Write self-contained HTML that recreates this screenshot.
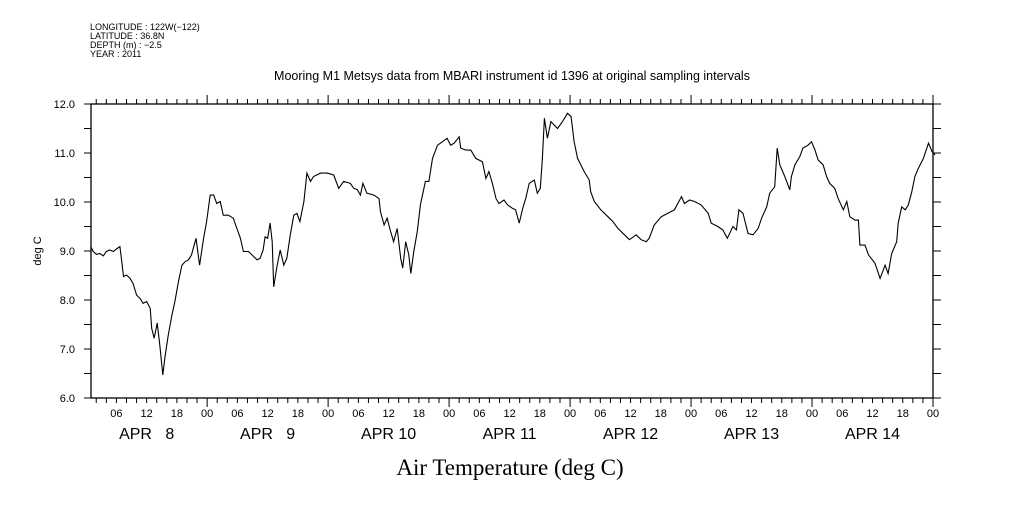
<!DOCTYPE html>
<html><head><meta charset="utf-8">
<style>
body{margin:0;background:#fff;width:1009px;height:504px;overflow:hidden}
svg text{font-family:"Liberation Sans",sans-serif;fill:#000;white-space:pre}
</style></head>
<body>
<svg id="chart" width="1009" height="504" viewBox="0 0 1009 504" xmlns="http://www.w3.org/2000/svg">
<g font-size="9">
<text x="90" y="30">LONGITUDE : 122W(−122)</text>
<text x="90" y="39">LATITUDE : 36.8N</text>
<text x="90" y="48">DEPTH (m) : −2.5</text>
<text x="90" y="57">YEAR : 2011</text>
</g>
<text x="512" y="80" text-anchor="middle" font-size="12.5">Mooring M1 Metsys data from MBARI instrument id 1396 at original sampling intervals</text>
<text x="510" y="475" text-anchor="middle" font-size="23" style="font-family:'Liberation Serif',serif">Air Temperature (deg C)</text>
<text transform="translate(41,251) rotate(-90)" text-anchor="middle" font-size="11">deg C</text>
<rect x="91" y="104" width="842" height="294" fill="none" stroke="#000" stroke-width="1.3"/>
<g id="axes"></g>
<path id="series" fill="none" stroke="#000" stroke-width="1.1"/>
</svg>
<script>
const hours=[0.9,1.4,2.1,2.7,3.4,4.0,4.7,5.4,6.0,6.7,7.0,7.4,8.0,8.7,9.3,10.0,10.7,11.3,12.0,12.7,13.0,13.5,14.1,14.6,15.2,15.6,16.3,17.0,17.6,18.3,19.0,19.6,20.3,20.9,21.8,22.5,23.3,23.9,24.6,25.3,25.9,26.6,27.2,28.2,29.2,29.9,30.6,31.2,32.2,32.9,33.9,34.5,35.1,35.5,36.0,36.5,36.9,37.2,37.9,38.5,39.2,39.8,40.5,41.2,41.8,42.4,43.2,43.8,44.5,45.1,46.5,47.8,49.1,50.1,51.1,52.4,53.1,53.8,54.4,54.9,55.7,57.1,58.1,58.4,59.1,59.7,60.4,61.0,61.7,62.4,62.8,63.4,64.0,64.4,65.0,65.7,66.3,67.3,68.0,68.7,69.7,70.7,71.6,72.3,73.0,74.0,74.3,75.3,76.3,77.3,78.6,79.3,79.9,80.6,81.3,81.9,82.9,83.6,84.6,85.2,85.9,86.6,87.2,87.9,88.9,89.5,90.1,90.5,90.9,91.5,92.2,93.5,94.5,95.5,96.2,96.8,97.5,98.8,99.8,100.1,100.8,102.1,103.5,104.5,105.5,106.8,107.8,109.1,110.1,111.1,111.7,112.7,114.1,115.4,116.7,118.1,118.7,119.7,120.7,122.0,123.4,124.0,125.3,126.3,127.2,128.3,129.0,129.5,130.3,131.3,132.3,133.3,134.0,135.0,135.6,136.6,137.1,137.6,138.6,139.6,139.9,140.6,141.6,142.2,143.2,143.9,144.6,145.2,146.2,146.9,147.5,148.5,149.2,150.2,150.9,151.5,152.5,153.2,153.5,154.5,155.2,156.5,157.5,158.5,159.1,159.8,160.8,161.1,161.8,162.5,163.1,163.8,164.4,165.1,166.1,167.1,167.8,168.4];
const temps=[9.09,8.99,8.93,8.95,8.90,8.99,9.02,8.99,9.04,9.09,8.85,8.48,8.51,8.44,8.34,8.10,8.03,7.93,7.97,7.83,7.42,7.22,7.53,7.08,6.47,6.81,7.29,7.69,7.97,8.37,8.71,8.78,8.82,8.92,9.26,8.71,9.26,9.60,10.14,10.14,9.97,10.01,9.73,9.73,9.67,9.46,9.26,8.99,8.99,8.92,8.82,8.85,9.02,9.29,9.26,9.57,9.19,8.27,8.71,9.02,8.71,8.85,9.33,9.73,9.77,9.60,10.01,10.59,10.42,10.52,10.59,10.59,10.55,10.28,10.42,10.38,10.28,10.25,10.14,10.38,10.18,10.14,10.07,9.80,9.53,9.67,9.40,9.19,9.46,8.85,8.65,9.19,8.92,8.54,8.99,9.40,9.94,10.42,10.42,10.89,11.16,11.23,11.30,11.16,11.20,11.33,11.10,11.06,11.06,10.89,10.82,10.48,10.62,10.38,10.07,9.97,10.04,9.94,9.87,9.84,9.57,9.87,10.07,10.38,10.45,10.18,10.28,10.86,11.71,11.30,11.64,11.50,11.64,11.81,11.74,11.23,10.89,10.62,10.45,10.21,10.01,9.84,9.70,9.60,9.46,9.33,9.23,9.33,9.23,9.19,9.26,9.53,9.70,9.77,9.84,10.11,9.97,10.04,10.01,9.94,9.77,9.57,9.50,9.43,9.26,9.50,9.43,9.84,9.77,9.36,9.33,9.46,9.67,9.90,10.18,10.31,11.10,10.76,10.52,10.25,10.52,10.76,10.93,11.10,11.16,11.23,11.06,10.86,10.76,10.52,10.38,10.28,10.07,9.84,10.01,9.70,9.63,9.63,9.12,9.12,8.92,8.75,8.44,8.71,8.54,8.95,9.19,9.57,9.90,9.84,9.94,10.21,10.52,10.69,10.89,11.20,11.03,10.96];
const yTickLabels=["6.0","7.0","8.0","9.0","10.0","11.0","12.0"];
const hourLabels=["00","06","12","18"];
const dayLabels=["APR   8","APR   9","APR 10","APR 11","APR 12","APR 13","APR 14"];
const X0=91,X1=933,Y0=398,Y1=104,TMIN=6,TMAX=12,HSTART=0.96,HEND=168;
function xs(h){return X0+(h-HSTART)/(HEND-HSTART)*(X1-X0);}
function ys(t){return Y0-(t-TMIN)/(TMAX-TMIN)*(Y0-Y1);}
const NS="http://www.w3.org/2000/svg";
const ax=document.getElementById('axes');
function ln(x1,y1,x2,y2,name){const l=document.createElementNS(NS,'line');
l.setAttribute('x1',x1);l.setAttribute('y1',y1);l.setAttribute('x2',x2);l.setAttribute('y2',y2);
l.setAttribute('stroke','#000');l.setAttribute('stroke-width','1');


ax.appendChild(l);}
function tx(x,y,s,size,anchor,name){const t=document.createElementNS(NS,'text');
t.setAttribute('x',x);t.setAttribute('y',y);t.setAttribute('font-size',size);t.setAttribute('text-anchor',anchor);
t.textContent=s;


ax.appendChild(t);}
for(let v=TMIN;v<=TMAX+0.001;v+=0.5){const y=ys(v);ln(X0-7,y,X0,y,'y-tick');ln(X1,y,X1+8,y,'y-tick-right');}
yTickLabels.forEach(s=>{tx(X0-16,ys(parseFloat(s))+4,s,11,'end','y-tick-label');});
for(let h=2;h<=HEND;h+=2){const x=xs(h);const major=h%24===0;
ln(x,Y1,x,Y1-(major?9:5),'x-tick-top');ln(x,Y0,x,Y0+(major?9:5),'x-tick-bottom');
if(h%6===0){tx(x,Y0+19,hourLabels[(h/6)%4],11,'middle','hour-label');}}
dayLabels.forEach((s,i)=>{tx(xs(i*24+12),Y0+41,s,16,'middle','day-label');});
let d='';hours.forEach((h,i)=>{d+=(i?'L':'M')+xs(h).toFixed(1)+' '+ys(temps[i]).toFixed(1);});
document.getElementById('series').setAttribute('d',d);
</script>
</body></html>
